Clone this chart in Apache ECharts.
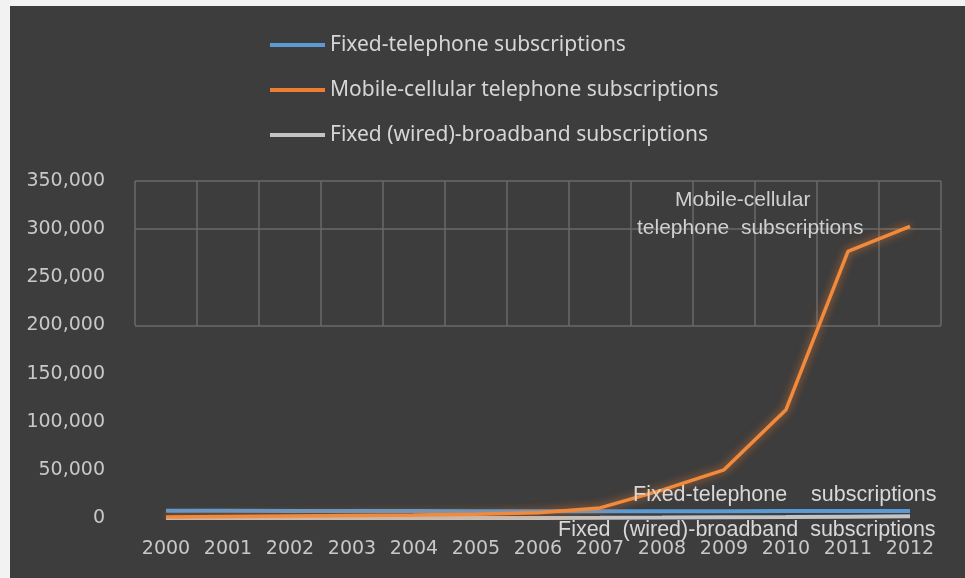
<!DOCTYPE html>
<html>
<head>
<meta charset="utf-8">
<script src="https://cdn.jsdelivr.net/npm/echarts@6/dist/echarts.min.js"></script>
<style>
  html, body { margin: 0; padding: 0; background: #f2f2f2; width: 965px; height: 578px; overflow: hidden; }
  #chart { position: absolute; left: 10px; top: 6px; width: 955px; height: 572px; }
</style>
</head>
<body>
<div id="chart"></div>
<script>
const years = ['2000','2001','2002','2003','2004','2005','2006','2007','2008','2009','2010','2011','2012'];
const fixedTelephone = [7500, 7400, 7300, 7200, 7200, 7100, 7000, 7000, 7100, 7100, 7200, 7300, 7300];
const mobileCellular = [1000, 1500, 2000, 2500, 3000, 4000, 5500, 10500, 29000, 50000, 112500, 277000, 303000];
const fixedBroadband = [0, 0, 0, 0, 10, 50, 100, 200, 400, 700, 1000, 1400, 1800];
const seriesNames = ['Fixed-telephone subscriptions', 'Mobile-cellular telephone subscriptions', 'Fixed (wired)-broadband subscriptions'];
const yTicks = { min: 0, max: 350000, interval: 50000 };

const chart = echarts.init(document.getElementById('chart'));
const gridColor = '#6a6a6a';
const labelFont = 'DejaVu Sans';
chart.setOption({
  backgroundColor: '#3d3d3d',
  animation: false,
  legend: {
    orient: 'vertical',
    left: 255,
    top: 23,
    itemGap: 23,
    itemWidth: 55,
    itemHeight: 4,
    icon: 'rect',
    textStyle: { color: '#d6d6d6', fontSize: 21, fontFamily: 'Noto Sans', lineHeight: 22 },
    data: seriesNames
  },
  grid: [
    { left: 125, right: 24, top: 175, bottom: 60 },
    { left: 125, right: 24, top: 175, bottom: 252.6 }
  ],
  xAxis: [
    {
      type: 'category', gridIndex: 0, data: years, boundaryGap: true,
      axisLine: { show: false }, axisTick: { show: false },
      axisLabel: { color: '#c8c8c8', fontSize: 19, fontFamily: labelFont, margin: 22, interval: 0, hideOverlap: false },
      splitLine: { show: false }
    },
    {
      type: 'category', gridIndex: 1, data: years, boundaryGap: true,
      axisLine: { show: false }, axisTick: { show: false }, axisLabel: { show: false },
      splitLine: { show: true, interval: 0, lineStyle: { color: gridColor, width: 1.5 } }
    }
  ],
  yAxis: [
    {
      type: 'value', gridIndex: 0, min: yTicks.min, max: yTicks.max, interval: yTicks.interval,
      axisLine: { show: false }, axisTick: { show: false },
      axisLabel: {
        color: '#c8c8c8', fontSize: 19, fontFamily: labelFont, margin: 30,
        formatter: v => v.toLocaleString('en-US')
      },
      splitLine: { show: false }
    },
    {
      type: 'value', gridIndex: 1, min: 200000, max: 350000, interval: 50000,
      axisLine: { show: false }, axisTick: { show: false }, axisLabel: { show: false },
      splitLine: { show: true, lineStyle: { color: [gridColor, 'rgba(0,0,0,0)', gridColor, gridColor], width: 1.5 } }
    }
  ],
  series: [
    {
      name: seriesNames[0], type: 'line', data: fixedTelephone, showSymbol: false,
      xAxisIndex: 0, yAxisIndex: 0,
      itemStyle: { color: '#5b9bd5' },
      lineStyle: { color: '#5b9bd5', width: 4 }, z: 3
    },
    {
      name: seriesNames[1], type: 'line', data: mobileCellular, showSymbol: false,
      xAxisIndex: 0, yAxisIndex: 0,
      itemStyle: { color: '#ed7d31' },
      lineStyle: { color: '#f28a3c', width: 3.5, shadowColor: 'rgba(237,125,49,0.8)', shadowBlur: 8 }, z: 4
    },
    {
      name: seriesNames[2], type: 'line', data: fixedBroadband, showSymbol: false,
      xAxisIndex: 0, yAxisIndex: 0,
      itemStyle: { color: '#c4c4c4' },
      lineStyle: { color: '#c4c4c4', width: 4 }, z: 2
    }
  ],
  graphic: [
    { type: 'text', left: 665, top: 184, style: { text: 'Mobile-cellular', fill: '#d0d0d0', font: '21px "Liberation Sans"' }, z: 10 },
    { type: 'text', left: 627, top: 212, style: { text: 'telephone  subscriptions', fill: '#d0d0d0', font: '21px "Liberation Sans"' }, z: 10 },
    { type: 'text', left: 623, top: 478, style: { text: 'Fixed-telephone    subscriptions', fill: '#d8d8d8', font: '21.5px "Liberation Sans"' }, z: 10 },
    { type: 'text', left: 548, top: 513, style: { text: 'Fixed  (wired)-broadband  subscriptions', fill: '#d8d8d8', font: '21.5px "Liberation Sans"' }, z: 10 }
  ]
});
</script>
</body>
</html>
